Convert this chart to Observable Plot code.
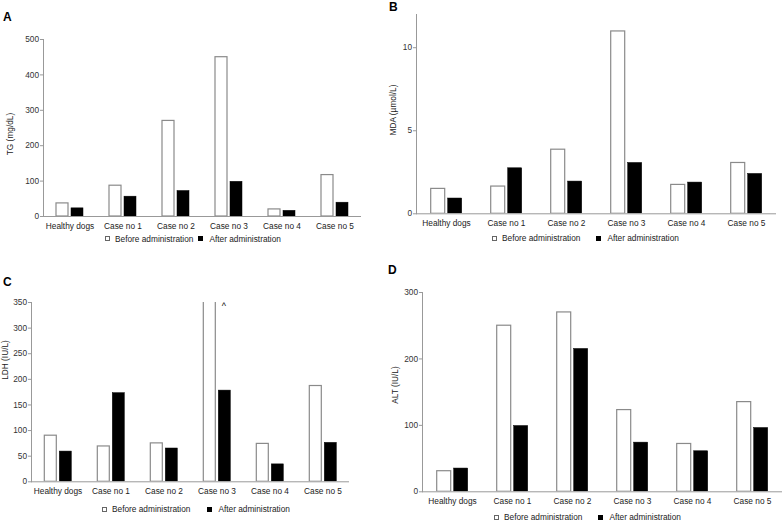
<!DOCTYPE html>
<html>
<head>
<meta charset="utf-8">
<script src="https://cdn.jsdelivr.net/npm/d3@7"></script>
<script src="https://cdn.jsdelivr.net/npm/@observablehq/plot@0.6"></script>
<style>
  html, body { margin: 0; padding: 0; background: #fff; }
  #root { position: relative; width: 784px; height: 523px; overflow: hidden; font-family: 'Liberation Sans', Arial, sans-serif; color: #222; }
  .panel { position: absolute; }
  .letter { position: absolute; font-weight: bold; font-size: 12px; line-height: 12px; color: #000; }
  .ytitle { position: absolute; font-size: 8.3px; line-height: 10px; white-space: nowrap; transform: translate(-50%, -50%) rotate(-90deg); color: #222; }
  .legend { position: absolute; display: flex; align-items: center; height: 12px; font-size: 8.3px; white-space: nowrap; color: #222; }
  .sw { display: inline-block; width: 5px; height: 5px; box-sizing: border-box; margin-right: 5px; }
  .sw.open { border: 1px solid #666; background: #fff; }
  .sw.fill { background: #000; }
</style>
</head>
<body>
<div id="root"></div>
<script>
// ---- data ----
const categories = ["Healthy dogs", "Case no 1", "Case no 2", "Case no 3", "Case no 4", "Case no 5"];
const series = ["Before administration", "After administration"];

const tgBefore = [37, 87, 270, 450, 20, 117];
const tgAfter = [23, 56, 72, 98, 16, 39];
const tgTicks = [0, 100, 200, 300, 400, 500];

const mdaBefore = [1.5, 1.64, 3.86, 10.98, 1.74, 3.06];
const mdaAfter = [0.92, 2.74, 1.94, 3.06, 1.88, 2.4];
const mdaTicks = [0, 5, 10];

// Case no 3 "before" LDH lies above the axis range (marked with ^ in the figure)
const ldhBefore = [90, 69, 75, null, 74, 187];
const ldhAfter = [59, 173, 65, 178, 34, 76];
const ldhTicks = [0, 50, 100, 150, 200, 250, 300, 350];
const ldhOffScale = ["Case no 3"];

const altBefore = [31, 250, 270, 123, 72, 135];
const altAfter = [35, 99, 215, 74, 61, 96];
const altTicks = [0, 100, 200, 300];

const root = document.getElementById("root");

function rowsFor(values, s) {
  return categories.map((c, i) => ({cat: c, series: s, value: values[i]})).filter(d => d.value != null);
}

function makePanel(cfg) {
  const yMax = cfg.yDomain[1];
  const marks = [
    Plot.barY(rowsFor(cfg.before, series[0]), {fx: "cat", x: "series", y: "value", fill: "#fff", stroke: "#8a8a8a", strokeWidth: 1.2, clip: true}),
    Plot.barY(rowsFor(cfg.after, series[1]), {fx: "cat", x: "series", y: "value", fill: "#000", stroke: "#000", strokeWidth: 0.5, clip: true}),
  ];
  if (cfg.offScale) {
    const trunc = cfg.offScale.map(c => ({cat: c, series: series[0]}));
    marks.push(Plot.barY(trunc, {fx: "cat", x: "series", y1: () => 0, y2: () => yMax * 1.2, fill: "#fff", stroke: "#8a8a8a", strokeWidth: 1.2, clip: true}));
    marks.push(Plot.text(cfg.offScale.map(c => ({cat: c, series: series[1]})), {fx: "cat", x: "series", y: () => yMax, text: () => "^", lineAnchor: "top", fontSize: 9, dx: -1, fill: "black"}));
  }
  marks.push(
    Plot.ruleY([0], {stroke: "#999", strokeWidth: 1}),
    Plot.frame({anchor: "left", facetAnchor: "left", stroke: "#999", strokeWidth: 1}),
    Plot.axisY({ticks: cfg.yTicks, tickSize: 3, tickPadding: 1.5, label: null, stroke: "#999", fill: "#333"}),
    Plot.axisFx({anchor: "bottom", tickSize: 0, tickPadding: cfg.fxPad, label: null, fill: "#222"})
  );
  const chart = Plot.plot({
    width: cfg.width,
    height: cfg.height,
    marginLeft: cfg.ml,
    marginRight: cfg.mr,
    marginTop: cfg.mt,
    marginBottom: cfg.mb,
    style: {fontFamily: "'Liberation Sans', Arial, sans-serif", fontSize: "8.3px", background: "transparent", overflow: "visible"},
    fx: {domain: categories, padding: 0},
    x: {domain: series, paddingInner: 0.2, paddingOuter: 0.85, axis: null},
    y: {domain: cfg.yDomain},
    marks
  });
  const wrap = document.createElement("div");
  wrap.className = "panel";
  wrap.style.left = cfg.left + "px";
  wrap.style.top = cfg.top + "px";
  wrap.appendChild(chart);
  root.appendChild(wrap);

  const letter = document.createElement("div");
  letter.className = "letter";
  letter.textContent = cfg.letter;
  letter.style.left = cfg.letterX + "px";
  letter.style.top = cfg.letterY + "px";
  root.appendChild(letter);

  const yt = document.createElement("div");
  yt.className = "ytitle";
  yt.textContent = cfg.yLabel;
  yt.style.left = cfg.titleX + "px";
  yt.style.top = cfg.titleY + "px";
  root.appendChild(yt);

  const lg = document.createElement("div");
  lg.className = "legend";
  lg.style.left = cfg.legX + "px";
  lg.style.top = (cfg.legY - 6) + "px";
  lg.innerHTML = `<span class="sw open"></span><span>${series[0]}</span><span class="sw fill" style="margin-left:${cfg.legGap}px;margin-right:6px"></span><span>${series[1]}</span>`;
  root.appendChild(lg);
}

makePanel({letter: "A", before: tgBefore, after: tgAfter, yDomain: [0, 500], yTicks: tgTicks, yLabel: "TG (mg/dL)",
  left: 0, top: 0, width: 392, height: 232, ml: 42, mr: 30, mt: 39, mb: 16, fxPad: 7,
  letterX: 3, letterY: 10.5, titleX: 10, titleY: 134, legX: 105, legY: 238.5, legGap: 5});

makePanel({letter: "B", before: mdaBefore, after: mdaAfter, yDomain: [0, 12], yTicks: mdaTicks, yLabel: "MDA (µmol/L)",
  left: 392, top: 0, width: 392, height: 230, ml: 22.3, mr: 6, mt: 14, mb: 16.7, fxPad: 6.5,
  letterX: 389, letterY: 1, titleX: 393, titleY: 110, legX: 492, legY: 238, legGap: 16});

makePanel({letter: "C", before: ldhBefore, after: ldhAfter, yDomain: [0, 350], yTicks: ldhTicks, yLabel: "LDH (IU/L)",
  offScale: ldhOffScale,
  left: 0, top: 262, width: 392, height: 240, ml: 30.7, mr: 42, mt: 40, mb: 20.7, fxPad: 6.5,
  letterX: 3, letterY: 275.5, titleX: 5, titleY: 360, legX: 102, legY: 509.3, legGap: 17});

makePanel({letter: "D", before: altBefore, after: altAfter, yDomain: [0, 300], yTicks: altTicks, yLabel: "ALT (IU/L)",
  left: 392, top: 262, width: 392, height: 255, ml: 29.3, mr: 2, mt: 30, mb: 25.7, fxPad: 6.5,
  letterX: 388, letterY: 263.5, titleX: 395, titleY: 385, legX: 494, legY: 517, legGap: 16});
</script>
</body>
</html>
